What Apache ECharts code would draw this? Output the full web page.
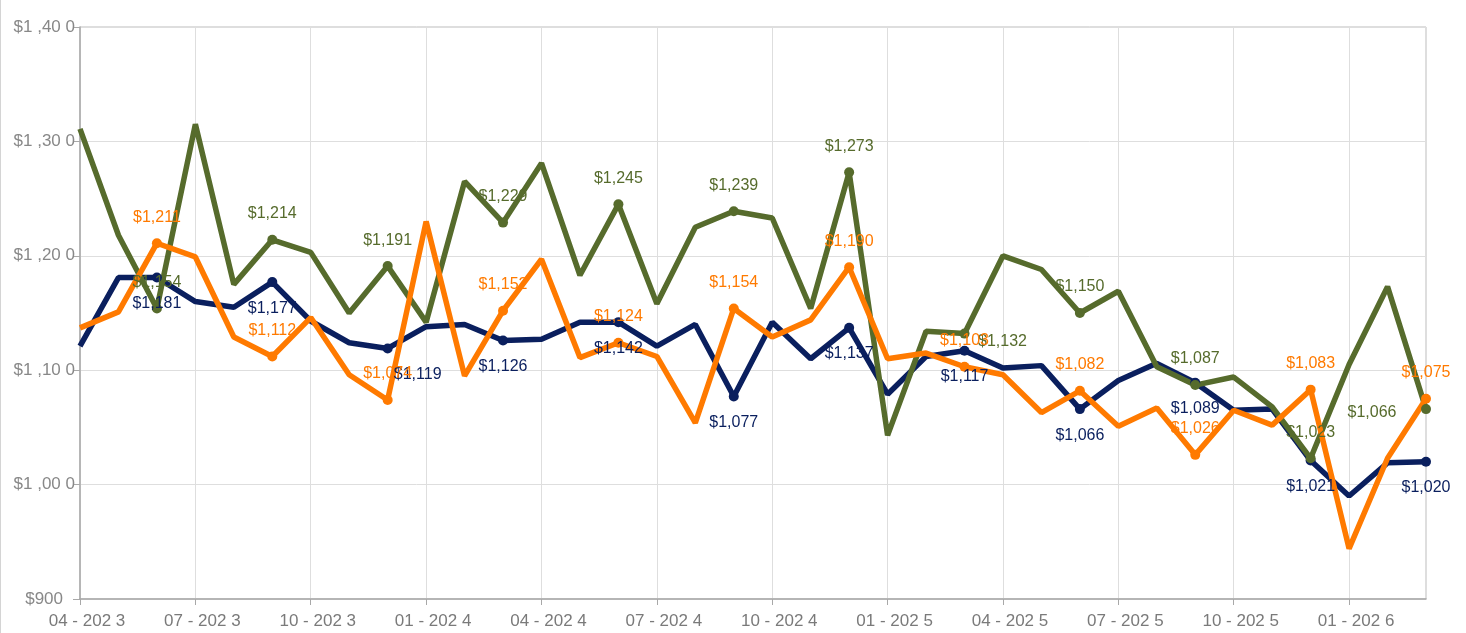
<!DOCTYPE html>
<html>
<head>
<meta charset="utf-8">
<script src="https://cdn.jsdelivr.net/npm/echarts@6/dist/echarts.min.js"></script>
<style>
  html, body { margin: 0; padding: 0; background: #fff; }
  #chart { position: absolute; left: 0; top: 0; width: 1466px; height: 633px; }
  #edge { position: absolute; left: 0; top: 0; width: 1px; height: 633px; background: #d4d4d4; z-index: 2; }
</style>
</head>
<body>
<div id="chart"></div>
<div id="edge"></div>
<script>
// months 04-2023 .. 03-2026
const categories = [
  '04 - 202 3', '05 - 202 3', '06 - 202 3', '07 - 202 3', '08 - 202 3', '09 - 202 3',
  '10 - 202 3', '11 - 202 3', '12 - 202 3', '01 - 202 4', '02 - 202 4', '03 - 202 4',
  '04 - 202 4', '05 - 202 4', '06 - 202 4', '07 - 202 4', '08 - 202 4', '09 - 202 4',
  '10 - 202 4', '11 - 202 4', '12 - 202 4', '01 - 202 5', '02 - 202 5', '03 - 202 5',
  '04 - 202 5', '05 - 202 5', '06 - 202 5', '07 - 202 5', '08 - 202 5', '09 - 202 5',
  '10 - 202 5', '11 - 202 5', '12 - 202 5', '01 - 202 6', '02 - 202 6', '03 - 202 6'
];

const navyValues = [
  1121, 1181, 1181, 1160, 1155, 1177, 1143, 1124, 1119, 1138, 1140, 1126,
  1127, 1142, 1142, 1121, 1140, 1077, 1142, 1110, 1137, 1079, 1112, 1117,
  1102, 1104, 1066, 1091, 1106, 1089, 1065, 1066, 1021, 990, 1019, 1020
];

const greenValues = [
  1311, 1218, 1154, 1315, 1175, 1214, 1203, 1150, 1191, 1142, 1265, 1229,
  1281, 1183, 1245, 1158, 1225, 1239, 1233, 1154, 1273, 1043, 1134, 1132,
  1200, 1188, 1150, 1169, 1103, 1087, 1094, 1068, 1023, 1105, 1173, 1066
];

const orangeValues = [
  1137, 1151, 1211, 1199, 1129, 1112, 1146, 1096, 1074, 1230, 1095, 1152,
  1197, 1111, 1124, 1112, 1054, 1154, 1129, 1144, 1190, 1110, 1115, 1103,
  1096, 1063, 1082, 1051, 1067, 1026, 1065, 1052, 1083, 944, 1023, 1075
];

const yTickValues = [900, 1000, 1100, 1200, 1300, 1400];
const yTickLabels = ['$900', '$1 ,00 0', '$1 ,10 0', '$1 ,20 0', '$1 ,30 0', '$1 ,40 0'];

const FONT = '"Liberation Sans", Arial, sans-serif';

// label nudges [dx, dy] where labels collide in the original
const labelShift = {
  navy: { 8: [30, 0] },
  green: { 23: [38, 34], 35: [-54, 29] },
};

function money(v) {
  return '$' + v.toLocaleString('en-US');
}

function makeSeries(key, name, values, color, labelPos) {
  const shifts = labelShift[key] || {};
  return {
    name,
    type: 'line',
    smooth: false,
    symbol: 'circle',
    symbolSize: 10,
    lineStyle: { width: 5.5, color },
    itemStyle: { color },
    emphasis: { disabled: true },
    data: values.map((v, i) => {
      const marked = i % 3 === 2;
      return {
        value: v,
        symbol: marked ? 'circle' : 'none',
        label: {
          show: marked,
          offset: shifts[i] || [0, 0],
        },
      };
    }),
    label: {
      position: labelPos,
      distance: 13,
      color,
      fontSize: 16,
      fontFamily: FONT,
      formatter: (p) => money(p.value),
    },
  };
}

const chart = echarts.init(document.getElementById('chart'), null, { renderer: 'canvas' });

chart.setOption({
  backgroundColor: '#fff',
  animation: false,
  grid: {
    left: 80, right: 40, top: 27, bottom: 34,
    show: true, borderColor: '#bdbdbd', borderWidth: 1,
    backgroundColor: 'transparent',
  },
  xAxis: {
    type: 'category',
    boundaryGap: false,
    data: categories,
    axisLine: { lineStyle: { color: '#a8a8a8', width: 1.5 } },
    axisTick: { show: true, interval: 2, length: 6, lineStyle: { color: '#a8a8a8' } },
    axisLabel: {
      interval: 2, color: '#7a7a7a', fontSize: 17, fontFamily: FONT, margin: 14,
      padding: [0, 0, 0, 14],
    },
    splitLine: { show: true, interval: 2, lineStyle: { color: '#dedede', width: 1 } },
  },
  yAxis: {
    type: 'value',
    min: 900,
    max: 1400,
    interval: 100,
    axisLine: { show: true, lineStyle: { color: '#a8a8a8', width: 1.5 } },
    axisTick: { show: true, length: 7, lineStyle: { color: '#a8a8a8' } },
    axisLabel: {
      color: '#888',
      fontSize: 17,
      fontFamily: FONT,
      margin: 5,
      formatter: (v) => {
        const t = yTickLabels[yTickValues.indexOf(v)] || '';
        return v < 1000 ? '{s|' + t + '}' : t;
      },
      rich: {
        s: { color: '#888', fontSize: 17, fontFamily: FONT, padding: [0, 12, 0, 0] },
      },
    },
    splitLine: { lineStyle: { color: '#dedede', width: 1 } },
  },
  series: [
    makeSeries('navy', 'Navy', navyValues, '#0a1f5e', 'bottom'),
    makeSeries('green', 'Green', greenValues, '#566b2c', 'top'),
    makeSeries('orange', 'Orange', orangeValues, '#ff7a00', 'top'),
  ],
});
</script>
</body>
</html>
